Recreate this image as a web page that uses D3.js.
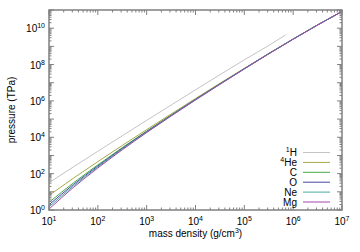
<!DOCTYPE html>
<html>
<head>
<meta charset="utf-8">
<script src="https://cdn.jsdelivr.net/npm/d3@7"></script>
<style>
  body { margin: 0; background: #fff; }
  text { font-family: "Liberation Sans", Arial, sans-serif; font-size: 10px; fill: #000; }
</style>
</head>
<body>
<svg id="svg" width="360" height="252"></svg>
<script>
// log10 of mass density (g/cm^3) where the curves were read
const logRho = [1, 1.5, 2, 2.5, 3, 3.5, 4, 4.5, 5, 5.5, 6, 6.5, 7];
const logRhoH = [1, 1.5, 2, 2.5, 3, 3.5, 4, 4.5, 5, 5.5, 5.845];

// log10 of pressure (TPa)
const pH  = [1.50, 2.37, 3.23, 4.08, 4.93, 5.77, 6.61, 7.44, 8.26, 9.05, 9.63];
const pHe = [0.80, 1.75, 2.66, 3.55, 4.42, 5.28, 6.13, 6.97, 7.79, 8.61, 9.41, 10.18, 10.92];
const pC  = [0.42, 1.49, 2.48, 3.43, 4.34, 5.22, 6.09, 6.94, 7.78, 8.60, 9.40, 10.18, 10.92];
const pO  = [0.29, 1.40, 2.42, 3.39, 4.31, 5.20, 6.08, 6.93, 7.77, 8.60, 9.40, 10.18, 10.92];
const pNe = [0.17, 1.32, 2.37, 3.35, 4.28, 5.18, 6.06, 6.92, 7.76, 8.59, 9.40, 10.18, 10.92];
const pMg = [0.05, 1.24, 2.31, 3.31, 4.26, 5.17, 6.05, 6.91, 7.76, 8.59, 9.39, 10.17, 10.92];

const seriesNames = ['H', 'He', 'C', 'O', 'Ne', 'Mg'];
const seriesSup = ['1', '4', '', '', '', ''];
const seriesColors = ['#c4c4c4', '#a8a848', '#46a846', '#4848a4', '#46a8a0', '#a048a8'];

const xTicks = [1e1, 1e2, 1e3, 1e4, 1e5, 1e6, 1e7];
const yTicks = [1e0, 1e2, 1e4, 1e6, 1e8, 1e10];

const svg = d3.select('#svg');
const plotL = 49, plotR = 342, plotT = 10, plotB = 210;

const x = d3.scaleLog().domain([1e1, 1e7]).range([plotL, plotR]);
const y = d3.scaleLog().domain([1e0, 1e11]).range([plotB, plotT]);

const series = [
    { xs: logRhoH, ys: pH },
    { xs: logRho, ys: pHe },
    { xs: logRho, ys: pC },
    { xs: logRho, ys: pO },
    { xs: logRho, ys: pNe },
    { xs: logRho, ys: pMg }
];

const line = d3.line()
    .x(d => x(d[0]))
    .y(d => y(d[1]))
    .curve(d3.curveMonotoneX);

series.forEach((s, i) => {
    const pts = s.xs.map((v, j) => [Math.pow(10, v), Math.pow(10, s.ys[j])]);
    svg.append('path')
        .attr('d', line(pts))
        .attr('fill', 'none')
        .attr('stroke', seriesColors[i])
        .attr('stroke-width', 1);
});

// minor + major ticks
const frame = svg.append('g').attr('stroke', '#808080').attr('stroke-width', 1);

for (let e = 1; e < 7; e++) {
    for (let m = 2; m <= 9; m++) {
        const xv = x(m * Math.pow(10, e));
        frame.append('line').attr('x1', xv).attr('x2', xv).attr('y1', plotB).attr('y2', plotB - 2.5);
        frame.append('line').attr('x1', xv).attr('x2', xv).attr('y1', plotT).attr('y2', plotT + 2.5);
    }
}
xTicks.forEach(t => {
    frame.append('line').attr('x1', x(t)).attr('x2', x(t)).attr('y1', plotB).attr('y2', plotB - 5);
    frame.append('line').attr('x1', x(t)).attr('x2', x(t)).attr('y1', plotT).attr('y2', plotT + 5);
});

for (let e = 0; e < 11; e++) {
    for (let m = 2; m <= 9; m++) {
        const yv = y(m * Math.pow(10, e));
        frame.append('line').attr('y1', yv).attr('y2', yv).attr('x1', plotL).attr('x2', plotL + 2.5);
        frame.append('line').attr('y1', yv).attr('y2', yv).attr('x1', plotR).attr('x2', plotR - 2.5);
    }
}
for (let e = 0; e <= 11; e++) {
    const yv = y(Math.pow(10, e));
    frame.append('line').attr('y1', yv).attr('y2', yv).attr('x1', plotL).attr('x2', plotL + 5);
    frame.append('line').attr('y1', yv).attr('y2', yv).attr('x1', plotR).attr('x2', plotR - 5);
}

frame.append('rect')
    .attr('x', plotL).attr('y', plotT)
    .attr('width', plotR - plotL).attr('height', plotB - plotT)
    .attr('fill', 'none')
    .attr('stroke-width', 1.5);

// tick labels
xTicks.forEach(t => {
    const lbl = svg.append('text')
        .attr('x', x(t)).attr('y', plotB + 15)
        .attr('text-anchor', 'middle');
    lbl.append('tspan').text('10');
    lbl.append('tspan').attr('dy', -4).attr('font-size', 7).text(Math.round(Math.log10(t)));
});
yTicks.forEach(t => {
    const lbl = svg.append('text')
        .attr('x', plotL - 4).attr('y', y(t) + 4)
        .attr('text-anchor', 'end');
    lbl.append('tspan').text('10');
    lbl.append('tspan').attr('dy', -4).attr('font-size', 7).text(Math.round(Math.log10(t)));
});

// axis titles
const xt = svg.append('text')
    .attr('x', (plotL + plotR) / 2).attr('y', 237)
    .attr('text-anchor', 'middle');
xt.append('tspan').text('mass density (g/cm');
xt.append('tspan').attr('dy', -4).attr('font-size', 7).text('3');
xt.append('tspan').attr('dy', 4).text(')');

svg.append('text')
    .attr('transform', 'translate(15,' + ((plotT + plotB) / 2) + ') rotate(-90)')
    .attr('text-anchor', 'middle')
    .text('pressure (TPa)');

// legend
const legY = 152.5, legStep = 9.9;
seriesNames.forEach((name, i) => {
    const ly = legY + i * legStep;
    const t = svg.append('text')
        .attr('x', 297).attr('y', ly + 3.5)
        .attr('text-anchor', 'end');
    if (seriesSup[i]) {
        t.append('tspan').attr('font-size', 7).attr('dy', -4).text(seriesSup[i]);
        t.append('tspan').attr('dy', 4).text(name);
    } else {
        t.text(name);
    }
    svg.append('line')
        .attr('x1', 303).attr('x2', 330)
        .attr('y1', ly).attr('y2', ly)
        .attr('stroke', seriesColors[i])
        .attr('stroke-width', 1);
});
</script>
</body>
</html>
